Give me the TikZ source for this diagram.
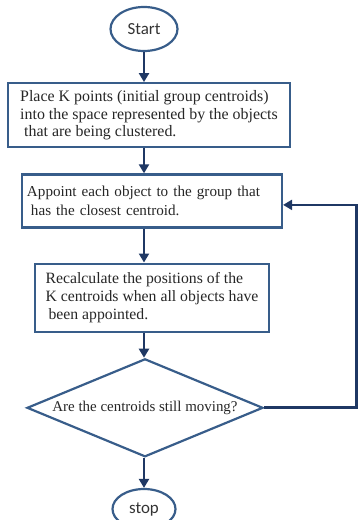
\documentclass[tikz,border=0pt]{standalone}
\usepackage{fontspec}
\setmainfont{Liberation Serif}
\newfontfamily\termfont{Carlito}
\usepackage{tikz}
\usetikzlibrary{positioning, shapes.geometric, arrows.meta}
\definecolor{edge}{RGB}{56,93,138}
\definecolor{flow}{RGB}{31,56,100}
\tikzstyle{terminal}=[ellipse, draw=edge, line width=2.2bp, inner sep=0pt, font=\termfont\fontsize{17}{19}\selectfont, text=black!80]
\tikzstyle{stepbox}=[rectangle, draw=edge, line width=2.2bp, align=left, inner sep=3bp, text=black!85]
\tikzstyle{decision}=[diamond, draw=edge, line width=2.2bp, aspect=2.4, inner sep=0pt, font=\fontsize{15}{17}\selectfont, text=black!85]
\tikzstyle{wire}=[draw=flow, line width=2.8bp, -{Triangle[width=10bp,length=9bp]}]

\begin{document}
\begin{tikzpicture}[x=1bp, y=-1bp]
                \useasboundingbox (0,0) rectangle (358,520);
                % Noeuds
                \node[terminal, minimum width=67bp, minimum height=44bp] (start) at (144,29) {Start};
                \node[stepbox, below=30bp of start, xshift=5bp, minimum width=282bp, minimum height=64bp, font=\fontsize{16}{17.5}\selectfont] (place) {Place K points (initial group centroids)\\into the space represented by the objects\\\hspace*{4bp}that are being clustered.};
                \node[stepbox, below=25bp of place, xshift=3bp, text width=250bp, inner xsep=5bp, minimum height=53bp, font=\fontsize{15.2}{19}\selectfont] (assign) {Appoint each object to the group that\\\hspace*{4bp}has the closest centroid.};
                \node[stepbox, below=34bp of assign, minimum width=234bp, minimum height=68bp, font=\fontsize{15.8}{18}\selectfont] (recalc) {Recalculate the positions of the\\K centroids when all objects have\\\hspace*{3bp}been appointed.};
                \node[decision, below=25bp of recalc, xshift=-7bp, minimum width=236bp, minimum height=98bp] (moving) {Are the centroids still moving?};
                \node[terminal, below=30bp of moving, xshift=-1bp, minimum width=63bp, minimum height=40bp] (stop) {stop};

                % Fleches
                \draw[wire] (start.south) -- (start.south |- place.north);
                \draw[wire] (start.south |- place.south) -- (start.south |- assign.north);
                \draw[wire] (start.south |- assign.south) -- (start.south |- recalc.north);
                \draw[wire] (start.south |- recalc.south) -- (start.south |- moving.north);
                \draw[wire] (start.south |- moving.south) -- (start.south |- stop.north);

                % Boucle
                \coordinate[right=92bp of moving.east] (loop);
                \draw[wire] (moving.east) -- (loop) |- ([yshift=-4bp]assign.east);
            \end{tikzpicture}
\end{document}
